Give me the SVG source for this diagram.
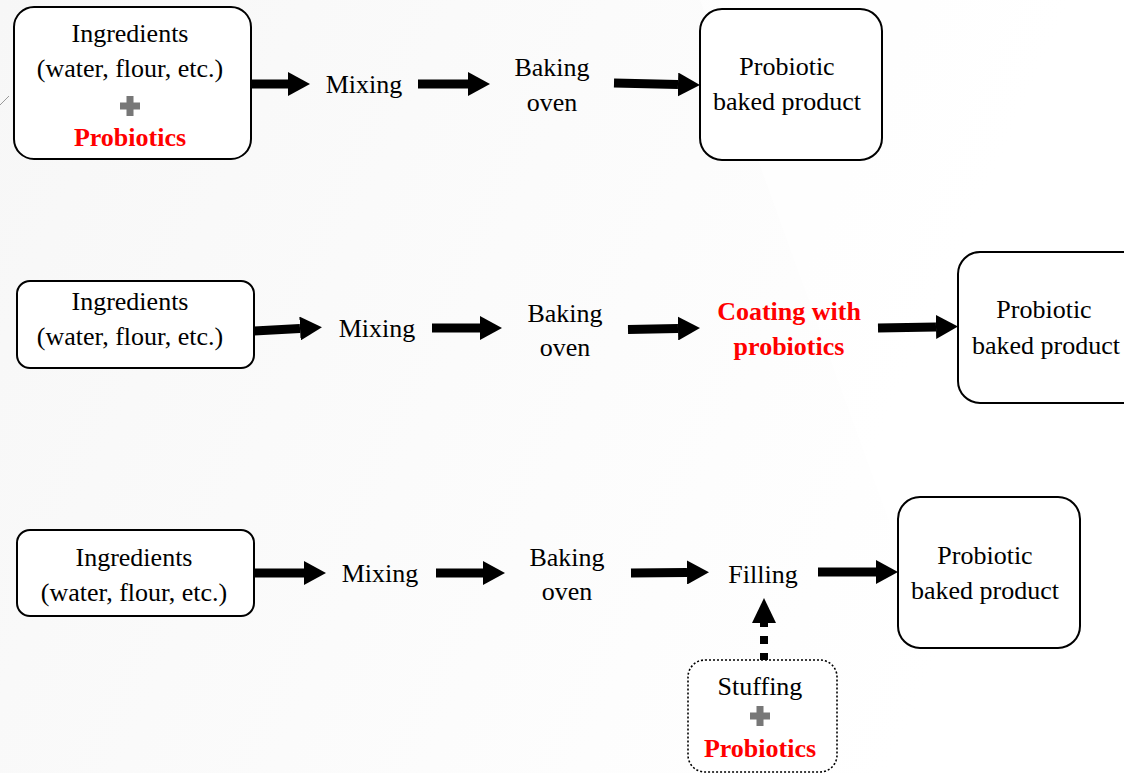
<svg xmlns="http://www.w3.org/2000/svg" width="1124" height="773" viewBox="0 0 1124 773">
  <defs>
    <marker id="ah" markerUnits="userSpaceOnUse" markerWidth="22" markerHeight="24" refX="0" refY="12" orient="auto">
      <path d="M0,0 L22,12 L0,24 Z" fill="#000"/>
    </marker>
    <linearGradient id="bg" x1="0" y1="0" x2="1" y2="0.3">
      <stop offset="0" stop-color="#f7f7f7"/>
      <stop offset="0.5" stop-color="#fbfbfb"/>
      <stop offset="1" stop-color="#ffffff"/>
    </linearGradient>
    <style>
      text { font-family: "Liberation Serif", "Times New Roman", serif; font-size: 26px; fill: #000; text-anchor: middle; }
      .red { fill: #ff0000; font-weight: bold; }
      .box { fill: #fff; stroke: #000; stroke-width: 2; }
      .dotbox { fill: #fff; stroke: #000; stroke-width: 1.6; stroke-dasharray: 2 2; }
      .arr { stroke: #000; stroke-width: 9; fill: none; marker-end: url(#ah); }
      .dash { stroke: #000; stroke-width: 8; fill: none; stroke-dasharray: 8 9; }
      .plus { fill: #777; }
    </style>
  </defs>

  <rect x="0" y="0" width="1124" height="773" fill="url(#bg)"/>
  <polygon points="700,0 1124,0 1124,773 980,773" fill="#ffffff" opacity="0.6"/>
  <line x1="0" y1="105" x2="9" y2="96" stroke="#999" stroke-width="1"/>

  <g id="connectors">
    <line class="arr" x1="251" y1="84" x2="288" y2="84"/>
    <line class="arr" x1="418" y1="84" x2="468" y2="84"/>
    <line class="arr" x1="614" y1="83" x2="678" y2="84.5"/>

    <line class="arr" x1="254" y1="331" x2="300" y2="328.5"/>
    <line class="arr" x1="432" y1="328" x2="480" y2="328"/>
    <line class="arr" x1="628" y1="329.5" x2="678" y2="328.5"/>
    <line class="arr" x1="878" y1="328" x2="936" y2="327"/>

    <line class="arr" x1="254" y1="573" x2="304" y2="573"/>
    <line class="arr" x1="436" y1="573" x2="483" y2="573"/>
    <line class="arr" x1="631" y1="573" x2="687" y2="572.5"/>
    <line class="arr" x1="818" y1="572" x2="876" y2="572"/>

    <line class="dash" x1="764" y1="661" x2="764" y2="623"/>
    <polygon points="752,623 776,623 764,598" fill="#000"/>
  </g>

  <!-- Row 1 -->
  <g id="r1-ingredients">
    <rect class="box" x="14" y="7" width="237" height="152" rx="20"/>
    <text x="130" y="42">Ingredients</text>
    <text x="130" y="77">(water, flour, etc.)</text>
    <path class="plus" d="M126.5,96 h7 v6.5 h6.5 v7 h-6.5 v6.5 h-7 v-6.5 h-6.5 v-7 h6.5 Z"/>
    <text class="red" x="130" y="146">Probiotics</text>
  </g>
  <g id="r1-mixing"><text x="364" y="93">Mixing</text></g>
  <g id="r1-baking">
    <text x="552" y="76">Baking</text>
    <text x="552" y="111">oven</text>
  </g>
  <g id="r1-product">
    <rect class="box" x="700" y="9" width="182" height="151" rx="22"/>
    <text x="787" y="75">Probiotic</text>
    <text x="787" y="110">baked product</text>
  </g>

  <!-- Row 2 -->
  <g id="r2-ingredients">
    <rect class="box" x="17" y="281" width="237" height="87" rx="13"/>
    <text x="130" y="310">Ingredients</text>
    <text x="130" y="345">(water, flour, etc.)</text>
  </g>
  <g id="r2-mixing"><text x="377" y="337">Mixing</text></g>
  <g id="r2-baking">
    <text x="565" y="322">Baking</text>
    <text x="565" y="356">oven</text>
  </g>
  <g id="r2-coating">
    <text class="red" x="789" y="320">Coating with</text>
    <text class="red" x="789" y="355">probiotics</text>
  </g>
  <g id="r2-product">
    <rect class="box" x="958" y="252" width="190" height="151" rx="22"/>
    <text x="1044" y="318">Probiotic</text>
    <text x="1046" y="354">baked product</text>
  </g>

  <!-- Row 3 -->
  <g id="r3-ingredients">
    <rect class="box" x="17" y="530" width="237" height="86" rx="13"/>
    <text x="134" y="566">Ingredients</text>
    <text x="134" y="601">(water, flour, etc.)</text>
  </g>
  <g id="r3-mixing"><text x="380" y="582">Mixing</text></g>
  <g id="r3-baking">
    <text x="567" y="566">Baking</text>
    <text x="567" y="600">oven</text>
  </g>
  <g id="r3-filling"><text x="763" y="583">Filling</text></g>
  <g id="r3-product">
    <rect class="box" x="898" y="497" width="182" height="151" rx="22"/>
    <text x="985" y="564">Probiotic</text>
    <text x="985" y="599">baked product</text>
  </g>
  <g id="r3-stuffing">
    <rect class="dotbox" x="688" y="660" width="149" height="112" rx="17"/>
    <text x="760" y="695">Stuffing</text>
    <path class="plus" d="M756.5,706 h7 v6.5 h6.5 v7 h-6.5 v6.5 h-7 v-6.5 h-6.5 v-7 h6.5 Z"/>
    <text class="red" x="760" y="757">Probiotics</text>
  </g>
</svg>
